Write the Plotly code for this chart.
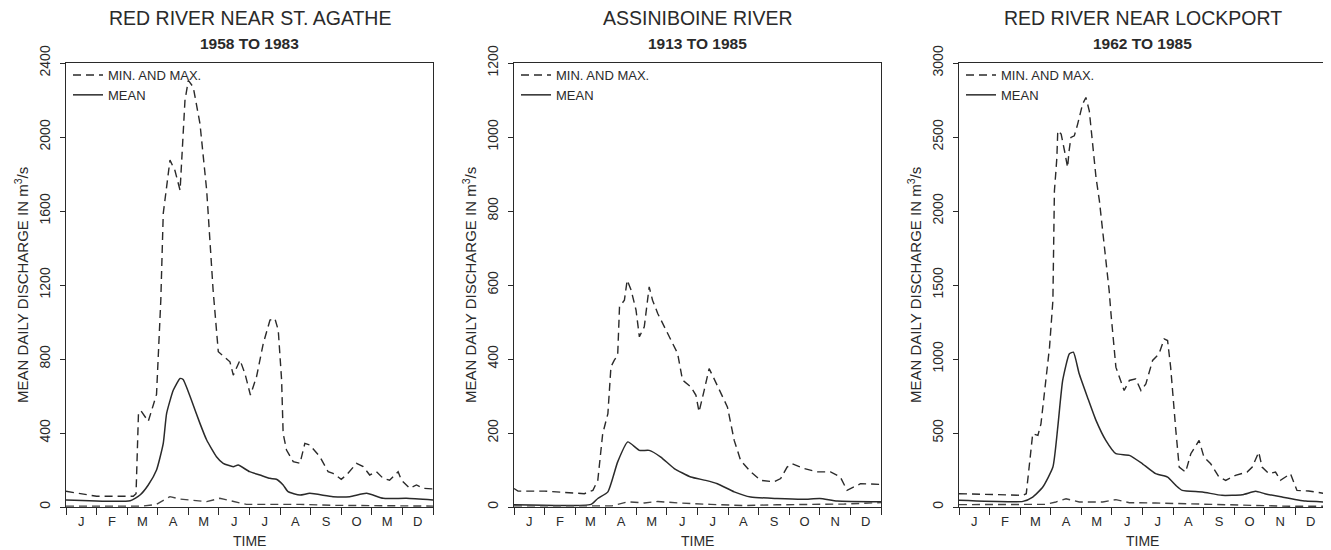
import plotly.graph_objects as go

# ---------------- DATA ----------------
months_agathe = ["J", "F", "M", "A", "M", "J", "J", "A", "S", "O", "M", "D"]
months_std = ["J", "F", "M", "A", "M", "J", "J", "A", "S", "O", "N", "D"]

titles = ["RED RIVER NEAR ST. AGATHE", "ASSINIBOINE RIVER", "RED RIVER NEAR LOCKPORT"]
subtitles = ["1958 TO 1983", "1913 TO 1985", "1962 TO 1985"]
y_max = [2400, 1200, 3000]
y_step = [400, 200, 500]

# Red River near St. Agathe (time in months from Jan 1)
agathe_max_x = [0, 1.0, 2.2, 2.29, 2.37, 2.45, 2.69, 2.85, 2.96, 3.1, 3.18, 3.4, 3.56, 3.73, 3.78,
                3.89, 4.0, 4.16, 4.38, 4.6, 4.81, 4.98, 5.36, 5.47, 5.69, 5.85, 6.03, 6.23, 6.45,
                6.67, 6.83, 6.94, 7.05, 7.1, 7.21, 7.43, 7.65, 7.81, 7.97, 8.3, 8.57, 8.73, 9.0,
                9.17, 9.5, 9.72, 9.93, 10.15, 10.37, 10.58, 10.86, 10.97, 11.24, 11.46, 11.68, 12.0]
agathe_max_y = [85, 58, 58, 72, 509, 520, 463, 545, 609, 1118, 1587, 1875, 1820, 1712, 1875,
                2198, 2306, 2270, 2073, 1712, 1172, 839, 785, 713, 794, 722, 605, 704, 884,
                1010, 1019, 956, 686, 398, 308, 245, 236, 344, 335, 272, 191, 182, 150,
                173, 236, 218, 173, 191, 155, 145, 191, 145, 101, 119, 101, 98]
agathe_mean_x = [0, 2.1, 2.42, 2.69, 2.96, 3.18, 3.29, 3.51, 3.73, 3.83, 4.1, 4.38, 4.6, 4.92,
                 5.14, 5.47, 5.63, 6.0, 6.34, 6.67, 6.88, 7.1, 7.26, 7.65, 7.97, 8.73, 9.28,
                 9.83, 10.37, 11.13, 12.0]
agathe_mean_y = [38, 34, 65, 119, 200, 344, 506, 632, 695, 689, 578, 452, 362, 272,
                 236, 218, 227, 191, 173, 155, 150, 119, 83, 65, 74, 56, 56,
                 74, 47, 47, 38]
agathe_min_x = [0, 2.5, 2.96, 3.4, 3.73, 4.16, 4.6, 5.03, 5.47, 5.9, 6.56, 7.65, 8.73, 12.0]
agathe_min_y = [5, 5, 14, 56, 43, 38, 29, 47, 29, 14, 14, 14, 9, 5]

# Assiniboine River
assin_max_x = [0, 0.13, 1.0, 1.98, 2.3, 2.58, 2.74, 2.9, 3.07, 3.17, 3.28, 3.39, 3.45, 3.61, 3.7,
               3.83, 3.99, 4.1, 4.26, 4.42, 4.53, 4.7, 4.91, 5.13, 5.35, 5.51, 5.78, 5.95, 6.05,
               6.22, 6.38, 6.54, 6.71, 6.98, 7.2, 7.41, 7.74, 8.07, 8.5, 8.72, 8.93, 9.1, 9.48,
               9.91, 10.35, 10.67, 10.89, 11.11, 11.33, 12.0]
assin_max_y = [50, 43, 43, 38, 36, 45, 72, 198, 252, 379, 397, 410, 541, 559, 613,
               586, 532, 460, 487, 595, 559, 523, 487, 451, 415, 343, 325, 302, 257,
               316, 374, 347, 316, 270, 180, 126, 95, 72, 68, 77, 108, 117, 104,
               95, 95, 81, 45, 54, 63, 61]
assin_mean_x = [0, 2.52, 2.74, 3.07, 3.39, 3.72, 4.1, 4.42, 4.8, 5.24, 5.78, 6.27, 6.65, 7.2,
                7.74, 8.6, 9.48, 10.0, 10.57, 12.0]
assin_mean_y = [6, 7, 23, 41, 122, 176, 153, 153, 135, 104, 81, 72, 63, 41,
                27, 23, 21, 23, 16, 14]
assin_min_x = [0, 3.2, 3.72, 4.26, 4.7, 5.35, 6.43, 7.52, 8.6, 10.8, 12.0]
assin_min_y = [3, 3, 14, 11, 15, 11, 7, 4, 6, 8, 12]

# Red River near Lockport
lock_max_x = [0, 2.09, 2.2, 2.41, 2.58, 2.68, 2.79, 2.96, 3.07, 3.12, 3.17, 3.2, 3.23, 3.34,
              3.45, 3.55, 3.6, 3.66, 3.77, 3.88, 4.04, 4.15, 4.26, 4.37, 4.48, 4.59, 4.75,
              4.91, 4.97, 5.13, 5.4, 5.57, 5.78, 5.95, 6.11, 6.33, 6.54, 6.71, 6.82, 6.92,
              7.09, 7.2, 7.41, 7.58, 7.85, 8.01, 8.23, 8.5, 8.72, 9.04, 9.42, 9.59, 9.8,
              9.91, 10.13, 10.35, 10.51, 10.84, 11.05, 11.43, 12.0]
lock_max_y = [90, 79, 90, 495, 484, 562, 765, 1080, 1395, 2137, 2272, 2362, 2542, 2520,
              2407, 2295, 2407, 2497, 2508, 2587, 2722, 2767, 2677, 2452, 2227, 2070, 1777,
              1462, 1305, 945, 787, 855, 866, 787, 832, 990, 1035, 1136, 1125, 945,
              517, 270, 236, 360, 450, 337, 292, 202, 180, 214, 236, 270, 371,
              270, 225, 236, 180, 225, 112, 108, 90]
lock_mean_x = [0, 2.09, 2.41, 2.74, 3.07, 3.23, 3.39, 3.61, 3.74, 3.93, 4.2, 4.48, 4.8, 5.13,
               5.57, 6.0, 6.43, 6.82, 7.09, 7.3, 7.96, 8.6, 9.26, 9.7, 10.0, 10.57, 11.33, 12.0]
lock_mean_y = [45, 38, 67, 135, 270, 540, 855, 1035, 1046, 900, 742, 585, 450, 360,
               349, 292, 225, 202, 146, 112, 101, 79, 83, 106, 90, 67, 40, 34]
lock_min_x = [0, 2.1, 2.85, 3.17, 3.5, 3.93, 4.7, 5.13, 5.57, 6.43, 7.5, 8.6, 9.7, 10.8, 12.0]
lock_min_y = [16, 16, 18, 34, 56, 34, 34, 50, 29, 27, 22, 16, 11, 5, 5]

panels = [
    (agathe_max_x, agathe_max_y, agathe_mean_x, agathe_mean_y, agathe_min_x, agathe_min_y, months_agathe),
    (assin_max_x, assin_max_y, assin_mean_x, assin_mean_y, assin_min_x, assin_min_y, months_std),
    (lock_max_x, lock_max_y, lock_mean_x, lock_mean_y, lock_min_x, lock_min_y, months_std),
]

# ---------------- LAYOUT ----------------
# the page body has an 8px margin, so the figure is drawn 8px in from the window corner
OFF = 8
W, H = 1331 - OFF, 550 - OFF
x_px = [(66 - OFF, 433 - OFF), (514 - OFF, 881 - OFF), (959 - OFF, 1326 - OFF)]
y_top_px, y_bot_px = 63 - OFF, 507 - OFF
FONT = "Liberation Sans, Arial, sans-serif"
INK = "#2a2a2a"
DASH = "8px,5px"

fig = go.Figure()
annotations = []
legend_names = ["legend", "legend2", "legend3"]
axis_suffix = ["", "2", "3"]

for i, (mx, my, ax_, ay, nx, ny, mlabels) in enumerate(panels):
    xa = "x" + axis_suffix[i]
    ya = "y" + axis_suffix[i]
    lg = legend_names[i]
    fig.add_trace(go.Scatter(x=mx, y=my, xaxis=xa, yaxis=ya, mode="lines",
                             line=dict(color=INK, width=1.4, dash=DASH),
                             name="MIN. AND MAX.", legend=lg, showlegend=True))
    fig.add_trace(go.Scatter(x=ax_, y=ay, xaxis=xa, yaxis=ya, mode="lines",
                             line=dict(color=INK, width=1.5, shape="spline", smoothing=0.5),
                             name="MEAN", legend=lg, showlegend=True))
    fig.add_trace(go.Scatter(x=nx, y=ny, xaxis=xa, yaxis=ya, mode="lines",
                             line=dict(color="#444", width=1.4, dash=DASH),
                             name="MIN", legend=lg, showlegend=False))

    x0, x1 = x_px[i]
    dom_x = [x0 / W, x1 / W]
    dom_y = [(H - y_bot_px) / H, (H - y_top_px) / H]
    xkey = "xaxis" + axis_suffix[i]
    ykey = "yaxis" + axis_suffix[i]
    fig.update_layout(**{
        xkey: dict(domain=dom_x, range=[0, 12], anchor=ya, automargin=False,
                   tickmode="array", tickvals=[k + 0.5 for k in range(12)], ticktext=mlabels,
                   ticks="", ticklabelstandoff=2,
                   tickfont=dict(family=FONT, size=13, color=INK),
                   minor=dict(tickmode="array", tickvals=list(range(13)), ticks="outside",
                              ticklen=7, tickwidth=1.2, tickcolor=INK),
                   showline=True, linecolor=INK, linewidth=1.3, mirror=True,
                   showgrid=False, zeroline=False, fixedrange=True),
        ykey: dict(domain=dom_y, range=[0, y_max[i]], anchor=xa, automargin=False,
                   tickmode="linear", tick0=0, dtick=y_step[i],
                   ticks="outside", ticklen=5, tickwidth=1.2, tickcolor=INK,
                   tickangle=-90, ticklabelstandoff=4,
                   tickfont=dict(family=FONT, size=14, color=INK),
                   showline=True, linecolor=INK, linewidth=1.3, mirror=True,
                   showgrid=False, zeroline=False, fixedrange=True),
        lg: dict(x=(x0 + 2) / W, y=(H - y_top_px + 3) / H, xanchor="left", yanchor="top",
                 bgcolor="rgba(0,0,0,0)", borderwidth=0, itemwidth=30,
                 font=dict(family=FONT, size=13, color=INK), tracegroupgap=0,
                 itemclick=False, itemdoubleclick=False),
    })

    cx = (x0 + x1) / 2 / W
    annotations.append(dict(text=titles[i], x=cx, y=(H - (18 - OFF)) / H, xref="paper", yref="paper",
                            showarrow=False, xanchor="center", yanchor="middle",
                            font=dict(family=FONT, size=19.5, color=INK)))
    annotations.append(dict(text="<b>" + subtitles[i] + "</b>", x=cx, y=(H - (43 - OFF)) / H,
                            xref="paper", yref="paper", showarrow=False,
                            xanchor="center", yanchor="middle",
                            font=dict(family=FONT, size=15.5, color=INK)))
    annotations.append(dict(text="MEAN DAILY DISCHARGE IN m<sup>3</sup>/s",
                            x=(x0 - 45) / W, y=(H - (y_top_px + y_bot_px) / 2) / H,
                            xref="paper", yref="paper", showarrow=False, textangle=-90,
                            xanchor="center", yanchor="middle",
                            font=dict(family=FONT, size=15, color=INK)))
    annotations.append(dict(text="TIME", x=cx, y=(H - (541 - OFF)) / H, xref="paper", yref="paper",
                            showarrow=False, xanchor="center", yanchor="middle",
                            font=dict(family=FONT, size=14, color=INK)))

fig.update_layout(width=W, height=H, margin=dict(l=0, r=0, t=0, b=0, autoexpand=False),
                  paper_bgcolor="white", plot_bgcolor="white",
                  annotations=annotations, showlegend=True,
                  font=dict(family=FONT, color=INK))

fig.write_html("out.html")
